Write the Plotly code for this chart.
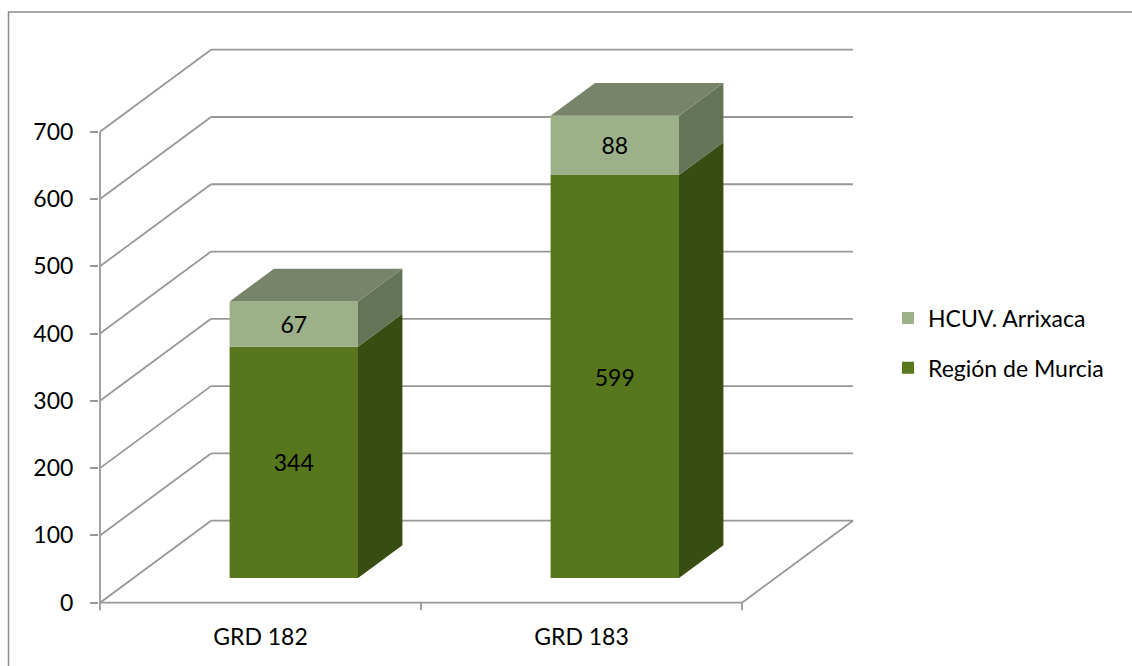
import plotly.graph_objects as go

# ---------------- data ----------------
CATEGORIES = ["GRD 182", "GRD 183"]
REGION_MURCIA = [344, 599]
HCUV_ARRIXACA = [67, 88]
Y_TICKS = [0, 100, 200, 300, 400, 500, 600, 700]

SERIES_NAMES = ["Región de Murcia", "HCUV. Arrixaca"]
SERIES_VALUES = [REGION_MURCIA, HCUV_ARRIXACA]

# ---------------- styles / geometry ----------------
FRONT_COLORS = ["#56771B", "#9CB08A"]
SIDE_COLORS = ["#384D11", "#657457"]
TOP_COLOR = "#788469"
GRID_COLOR = "#989898"
FONT = "Lato"
FS = 23

W, H = 1132, 666
PX_CAT = 321.0              # pixels per category on front plane
PX_VAL = 471.0 / 700.0      # pixels per value unit
DEPTH_PX_X, DEPTH_PX_Y = 111.0, 82.0
DX = DEPTH_PX_X / PX_CAT
DY = DEPTH_PX_Y / PX_VAL
F0, FD = 0.3, 0.4           # bar front depth, bar depth
BAR_W = 0.4

L, R, T, B = 99, 856, 40, 612
ZERO_PX = 602.7
x_min = -0.5 - (100 - L) / PX_CAT
x_max = x_min + (R - L) / PX_CAT
y_max = (ZERO_PX - T) / PX_VAL
y_min = -(B - ZERO_PX) / PX_VAL

n = len(CATEGORIES)
left_edge = -0.5
right_edge = n - 0.5

fig = go.Figure()

# ---------------- walls / grid (shapes below traces) ----------------
shapes = []
line_style = dict(color=GRID_COLOR, width=1.8)
for t in Y_TICKS:
    shapes.append(dict(type="line", xref="x", yref="y", layer="below",
                       x0=left_edge, y0=t, x1=left_edge + DX, y1=t + DY, line=line_style))
    shapes.append(dict(type="line", xref="x", yref="y", layer="below",
                       x0=left_edge + DX, y0=t + DY, x1=right_edge + DX, y1=t + DY, line=line_style))
# floor front and right edges
shapes.append(dict(type="line", xref="x", yref="y", layer="below",
                   x0=left_edge, y0=0, x1=right_edge, y1=0, line=line_style))
shapes.append(dict(type="line", xref="x", yref="y", layer="below",
                   x0=right_edge, y0=0, x1=right_edge + DX, y1=DY, line=line_style))
# vertical axis line
shapes.append(dict(type="line", xref="x", yref="y", layer="below",
                   x0=left_edge, y0=0, x1=left_edge, y1=Y_TICKS[-1], line=line_style))
# category boundary tick marks
tick_units = 7.5 / PX_VAL
for k in range(n + 1):
    xb = left_edge + k
    shapes.append(dict(type="line", xref="x", yref="y", layer="below",
                       x0=xb, y0=0, x1=xb, y1=-tick_units, line=line_style))
# outer chart border (paper coords)
pw, ph = R - L, B - T
shapes.append(dict(type="rect", xref="paper", yref="paper", layer="below",
                   x0=(8.5 - L) / pw, x1=(W + 20 - L) / pw,
                   y0=(B - (H + 20)) / ph, y1=(B - 12) / ph,
                   line=dict(color="#8C8C8C", width=1.5), fillcolor="rgba(0,0,0,0)"))

# ---------------- bars ----------------
cum = [0.0] * n
for s, (name, vals) in enumerate(zip(SERIES_NAMES, SERIES_VALUES)):
    xs = [i + F0 * DX for i in range(n)]
    bases = [F0 * DY + cum[i] for i in range(n)]
    fig.add_trace(go.Bar(
        x=xs, y=vals, base=bases, width=BAR_W, name=name,
        marker=dict(color=FRONT_COLORS[s], line=dict(width=0)),
        text=[str(v) for v in vals], textposition="inside",
        insidetextanchor="middle", constraintext="none", textangle=0,
        insidetextfont=dict(family=FONT, size=FS, color="black"),
        textfont=dict(family=FONT, size=FS, color="black"),
        legendgroup=name, legendrank=len(SERIES_NAMES) - s,
        hovertemplate=name + ": %{text}<extra></extra>",
    ))
    # side faces
    sx, sy = [], []
    for i in range(n):
        xr = xs[i] + BAR_W / 2
        b0 = bases[i]
        b1 = bases[i] + vals[i]
        sx += [xr, xr, xr + FD * DX, xr + FD * DX, xr, None]
        sy += [b0, b1, b1 + FD * DY, b0 + FD * DY, b0, None]
    fig.add_trace(go.Scatter(x=sx, y=sy, mode="lines", fill="toself",
                             fillcolor=SIDE_COLORS[s], line=dict(width=0, color=SIDE_COLORS[s]),
                             hoverinfo="skip", showlegend=False))
    for i in range(n):
        cum[i] += vals[i]

# top faces
tx, ty = [], []
for i in range(n):
    xl = i + F0 * DX - BAR_W / 2
    xr = i + F0 * DX + BAR_W / 2
    top = F0 * DY + cum[i]
    tx += [xl, xr, xr + FD * DX, xl + FD * DX, xl, None]
    ty += [top, top, top + FD * DY, top + FD * DY, top, None]
fig.add_trace(go.Scatter(x=tx, y=ty, mode="lines", fill="toself",
                         fillcolor=TOP_COLOR, line=dict(width=0, color=TOP_COLOR),
                         hoverinfo="skip", showlegend=False))

fig.update_layout(
    width=W, height=H,
    margin=dict(l=L, r=W - R, t=T, b=H - B, autoexpand=False),
    paper_bgcolor="white", plot_bgcolor="white",
    barmode="overlay",
    font=dict(family=FONT, size=FS, color="black"),
    shapes=shapes,
    showlegend=True,
    legend=dict(x=(888 - L) / pw, xanchor="left", y=(B - 343) / ph, yanchor="middle",
                font=dict(family=FONT, size=FS, color="black"),
                bgcolor="rgba(0,0,0,0)", tracegroupgap=17, itemclick=False),
    xaxis=dict(range=[x_min, x_max], tickmode="array",
               tickvals=list(range(n)), ticktext=CATEGORIES,
               ticks="", showgrid=False, zeroline=False, showline=False,
               ticklabelstandoff=9, fixedrange=True),
    yaxis=dict(range=[y_min, y_max], tickmode="array", tickvals=Y_TICKS,
               ticktext=[str(t) for t in Y_TICKS],
               ticks="outside", ticklen=8, tickwidth=1.8, tickcolor=GRID_COLOR,
               showgrid=False, zeroline=False, showline=False,
               ticklabelstandoff=12, fixedrange=True),
)

fig.write_html("out.html")
